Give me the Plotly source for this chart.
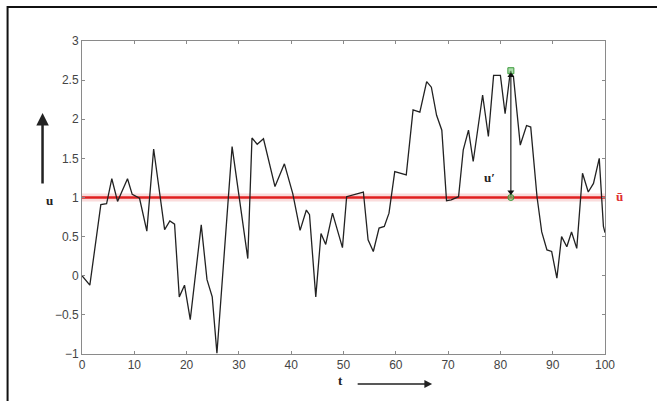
import plotly.graph_objects as go

# Time-series vertices
t = [0, 1.5, 3.6, 4.7, 5.7, 6.8, 8.7, 9.6, 11.0, 12.4, 13.7, 15.8, 16.8, 17.7,
     18.6, 19.6, 20.7, 22.8, 23.9, 24.9, 25.8, 28.7, 31.7, 32.5, 33.5, 34.7,
     36.9, 38.7, 40.3, 41.7, 42.9, 43.5, 44.7, 45.7, 46.6, 47.9, 49.8, 50.6,
     53.8, 54.7, 55.7, 56.8, 57.8, 58.7, 59.8, 62.0, 63.3, 64.6, 65.9, 66.8,
     67.8, 68.8, 69.7, 70.6, 72.0, 72.9, 73.9, 74.8, 76.6, 77.7, 78.7, 80.0,
     80.9, 81.9, 82.5, 83.8, 85.0, 85.8, 87.0, 87.9, 88.9, 89.8, 90.8, 91.7,
     92.7, 93.6, 94.6, 95.7, 96.8, 97.8, 98.9, 99.7, 100]
u = [0.0, -0.12, 0.91, 0.92, 1.24, 0.95, 1.24, 1.04, 0.99, 0.57, 1.62, 0.59, 0.70, 0.66,
     -0.27, -0.12, -0.56, 0.65, -0.05, -0.27, -0.99, 1.65, 0.22, 1.76, 1.68, 1.75,
     1.14, 1.43, 1.05, 0.58, 0.84, 0.78, -0.27, 0.54, 0.40, 0.80, 0.36, 1.01,
     1.07, 0.46, 0.31, 0.61, 0.63, 0.80, 1.33, 1.29, 2.12, 2.09, 2.48, 2.41,
     2.05, 1.86, 0.96, 0.97, 1.01, 1.61, 1.86, 1.46, 2.31, 1.78, 2.56, 2.56,
     2.07, 2.61, 2.54, 1.67, 1.92, 1.90, 1.01, 0.56, 0.33, 0.31, -0.03, 0.50,
     0.37, 0.56, 0.35, 1.31, 1.07, 1.18, 1.50, 0.63, 0.55]

u_mean = 1.0
t_range = [0, 100]
u_prime_t = 82.0
u_prime_top = 2.62

x_ticks = list(range(0, 101, 10))
y_ticks = [-1, -0.5, 0, 0.5, 1, 1.5, 2, 2.5, 3]

fig = go.Figure()

# mean line: pale halo + red line
fig.add_trace(go.Scatter(x=t_range, y=[u_mean, u_mean], mode="lines",
                         line=dict(color="rgba(230,60,60,0.18)", width=8),
                         hoverinfo="skip", showlegend=False))
fig.add_trace(go.Scatter(x=t_range, y=[u_mean, u_mean], mode="lines",
                         line=dict(color="#e02020", width=2.5),
                         showlegend=False))

# signal
fig.add_trace(go.Scatter(x=t, y=u, mode="lines",
                         line=dict(color="#222222", width=1.3),
                         showlegend=False))

# u' fluctuation indicator
fig.add_trace(go.Scatter(x=[u_prime_t, u_prime_t], y=[u_mean, u_prime_top],
                         mode="lines", line=dict(color="#222222", width=1.2),
                         showlegend=False))
fig.add_trace(go.Scatter(x=[u_prime_t, u_prime_t], y=[u_prime_top, u_mean],
                         mode="markers",
                         marker=dict(symbol=["square", "circle"], size=6,
                                     color="rgba(120,200,120,0.6)",
                                     line=dict(color="#3a9a3a", width=1)),
                         showlegend=False))
fig.add_trace(go.Scatter(x=[u_prime_t, u_prime_t], y=[u_prime_top - 0.06, u_mean + 0.07],
                         mode="markers",
                         marker=dict(symbol=["triangle-up", "triangle-down"], size=6,
                                     color="#111111"),
                         showlegend=False))

axis_common = dict(showgrid=False, zeroline=False, showline=True, linecolor="#8a8a8a",
                   linewidth=1, mirror="ticks", ticks="inside", ticklen=3,
                   tickcolor="#8a8a8a",
                   tickfont=dict(family="Arial, Liberation Sans, sans-serif", size=12,
                                 color="#444444"))

fig.update_xaxes(range=t_range, tickvals=x_ticks, **axis_common)
fig.update_yaxes(range=[-1, 3], tickvals=y_ticks, **axis_common)

L, R, T, B = 81.5, 52, 41, 47
W, H = 657, 401
pw, ph = W - L - R, H - T - B


def px(x):
    return (x - L) / pw


def py(y):
    return (H - B - y) / ph


fig.update_layout(
    width=W, height=H,
    margin=dict(l=L, r=R, t=T, b=B),
    paper_bgcolor="white", plot_bgcolor="white",
    shapes=[dict(type="rect", xref="paper", yref="paper",
                 x0=px(7), x1=px(670), y0=py(415), y1=py(7),
                 line=dict(color="#111111", width=2))],
    annotations=[
        dict(xref="paper", yref="paper", x=px(42), y=py(113), ax=0, ay=72,
             showarrow=True, arrowhead=2, arrowsize=1, arrowwidth=2.5,
             arrowcolor="#222222", text=""),
        dict(xref="paper", yref="paper", x=px(432), y=py(384), ax=-76, ay=0,
             showarrow=True, arrowhead=2, arrowsize=1.2, arrowwidth=1.3,
             arrowcolor="#222222", text=""),
        dict(xref="paper", yref="paper", x=px(43), y=py(200), showarrow=False,
             text="<b>u</b>", font=dict(family="Liberation Serif, serif", size=13,
                                        color="#222222")),
        dict(xref="paper", yref="paper", x=px(340), y=py(390), showarrow=False,
             text="<b>t</b>", font=dict(family="Liberation Serif, serif", size=13,
                                        color="#222222")),
        dict(xref="paper", yref="paper", x=px(625), y=py(196), showarrow=False,
             text="<b>ū</b>", font=dict(family="Liberation Serif, serif", size=13,
                                        color="#e03030")),
        dict(xref="x", yref="y", x=78.0, y=1.26, showarrow=False,
             text="<b>u′</b>", font=dict(family="Liberation Serif, serif", size=13,
                                         color="#222222")),
    ],
)

fig.write_html("out.html", config={"displayModeBar": False},
               post_script="document.body.style.margin='0';document.body.style.overflow='hidden';")
